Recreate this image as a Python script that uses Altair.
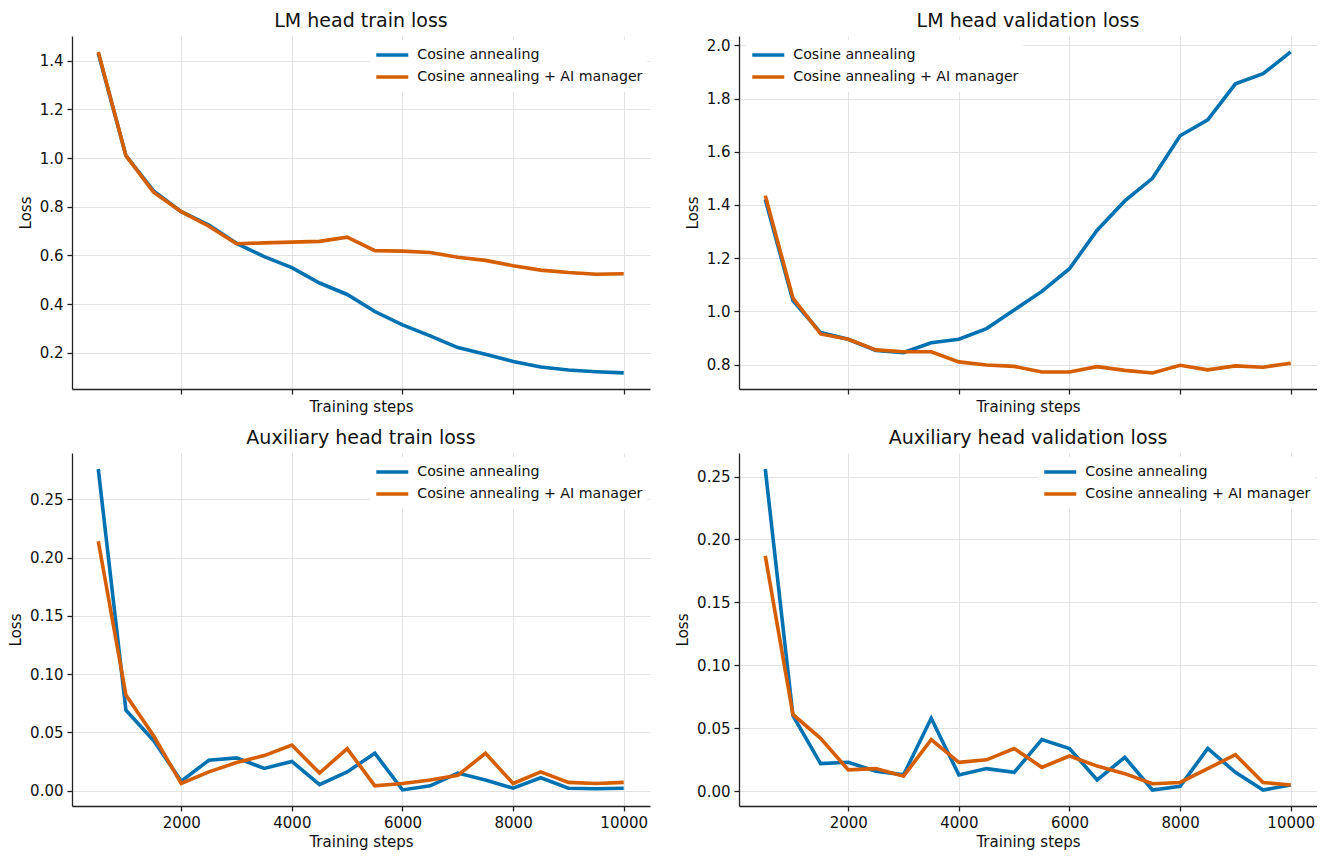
import altair as alt
import pandas as pd

steps = [500, 1000, 1500, 2000, 2500, 3000, 3500, 4000, 4500, 5000,
         5500, 6000, 6500, 7000, 7500, 8000, 8500, 9000, 9500, 10000]
series = ["Cosine annealing", "Cosine annealing + AI manager"]
colors = ["#0072B2", "#D55E00"]

lm_train_cos = [1.43, 1.01, 0.865, 0.78, 0.725, 0.65, 0.595, 0.55, 0.487, 0.44,
                0.37, 0.315, 0.27, 0.222, 0.195, 0.165, 0.142, 0.13, 0.123, 0.118]
lm_train_ai = [1.435, 1.01, 0.86, 0.78, 0.72, 0.648, 0.652, 0.655, 0.658, 0.675,
               0.62, 0.618, 0.612, 0.593, 0.58, 0.558, 0.54, 0.53, 0.523, 0.525]

lm_val_cos = [1.42, 1.04, 0.92, 0.895, 0.853, 0.845, 0.882, 0.895, 0.935, 1.005,
              1.075, 1.16, 1.305, 1.415, 1.5, 1.66, 1.72, 1.855, 1.893, 1.975]
lm_val_ai = [1.435, 1.05, 0.915, 0.895, 0.855, 0.848, 0.848, 0.81, 0.798, 0.793,
             0.772, 0.772, 0.792, 0.778, 0.768, 0.797, 0.78, 0.795, 0.79, 0.805]

aux_train_cos = [0.276, 0.069, 0.043, 0.008, 0.026, 0.028, 0.019, 0.025, 0.005, 0.016,
                 0.032, 0.0005, 0.004, 0.015, 0.009, 0.002, 0.011, 0.002, 0.0015, 0.002]
aux_train_ai = [0.214, 0.082, 0.047, 0.006, 0.016, 0.024, 0.03, 0.039, 0.015, 0.036,
                0.004, 0.006, 0.009, 0.013, 0.032, 0.006, 0.016, 0.007, 0.006, 0.007]

aux_val_cos = [0.256, 0.06, 0.022, 0.023, 0.016, 0.013, 0.058, 0.013, 0.018, 0.015,
               0.041, 0.034, 0.009, 0.027, 0.001, 0.004, 0.034, 0.015, 0.001, 0.005]
aux_val_ai = [0.187, 0.061, 0.042, 0.017, 0.018, 0.012, 0.041, 0.023, 0.025, 0.034,
              0.019, 0.028, 0.02, 0.014, 0.006, 0.007, 0.018, 0.029, 0.007, 0.005]

x_ticks = [2000, 4000, 6000, 8000, 10000]
FONT = "DejaVu Sans"
W, H = 578, 353


def panel(title, cos, ai, ydom, yvals, yfmt, line_x, bottom):
    df = pd.DataFrame({
        "step": steps + steps,
        "loss": cos + ai,
        "series": [series[0]] * len(steps) + [series[1]] * len(steps),
    })
    x = alt.X(
        "step:Q",
        scale=alt.Scale(domain=[25, 10475], nice=False, zero=False),
        axis=alt.Axis(values=x_ticks, labels=bottom, title="Training steps",
                      titlePadding=(4 if bottom else 5), format="d"),
    )
    y = alt.Y(
        "loss:Q",
        scale=alt.Scale(domain=ydom, nice=False, zero=False),
        axis=alt.Axis(values=yvals, format=yfmt, title="Loss", titlePadding=6),
    )
    color = alt.Color(
        "series:N",
        scale=alt.Scale(domain=series, range=colors),
        legend=alt.Legend(orient="none", legendX=line_x - 5.75, legendY=4,
                          title=None, symbolType="stroke", symbolStrokeWidth=3.5,
                          symbolSize=1024, labelOffset=7, rowPadding=0,
                          clipHeight=22,
                          labelFontSize=14.2, labelFont=FONT, labelColor="#111",
                          labelLimit=0, padding=4, fillColor="white"),
    )
    return (
        alt.Chart(df)
        .mark_line(strokeWidth=3.6, clip=True)
        .encode(x=x, y=y, color=color, order=alt.Order("step:Q"))
        .properties(width=W, height=H,
                    title=alt.TitleParams(title, fontSize=19, font=FONT,
                                          fontWeight="normal", color="#111", offset=5))
    )


p1 = panel("LM head train loss", lm_train_cos, lm_train_ai, [0.052, 1.501],
           [0.2, 0.4, 0.6, 0.8, 1.0, 1.2, 1.4], ".1f", 304, False)
p2 = panel("LM head validation loss", lm_val_cos, lm_val_ai, [0.708, 2.035],
           [0.8, 1.0, 1.2, 1.4, 1.6, 1.8, 2.0], ".1f", 13, False)
p3 = panel("Auxiliary head train loss", aux_train_cos, aux_train_ai, [-0.0133, 0.2898],
           [0.0, 0.05, 0.1, 0.15, 0.2, 0.25], ".2f", 304, True)
p4 = panel("Auxiliary head validation loss", aux_val_cos, aux_val_ai, [-0.0117, 0.2687],
           [0.0, 0.05, 0.1, 0.15, 0.2, 0.25], ".2f", 305, True)

chart = (
    alt.concat(p1, p2, p3, p4, columns=2, spacing={"row": 14, "column": 25})
    .resolve_scale(color="independent")
    .resolve_legend(color="independent")
    .configure_view(stroke=None)
    .configure_axis(
        labelFont=FONT, titleFont=FONT, labelFontSize=15, titleFontSize=15,
        titleFontWeight="normal", labelColor="#111", titleColor="#111",
        domainColor="#222", domainWidth=1.3, tickColor="#222", tickWidth=1.3,
        tickSize=5, labelPadding=4, gridColor="#e3e3e3", gridWidth=1,
    )
    .properties(background="white",
                padding={"top": 4, "bottom": 4, "left": 0, "right": 0})
)

chart.save("out.html", embed_options={"renderer": "svg", "actions": False})
